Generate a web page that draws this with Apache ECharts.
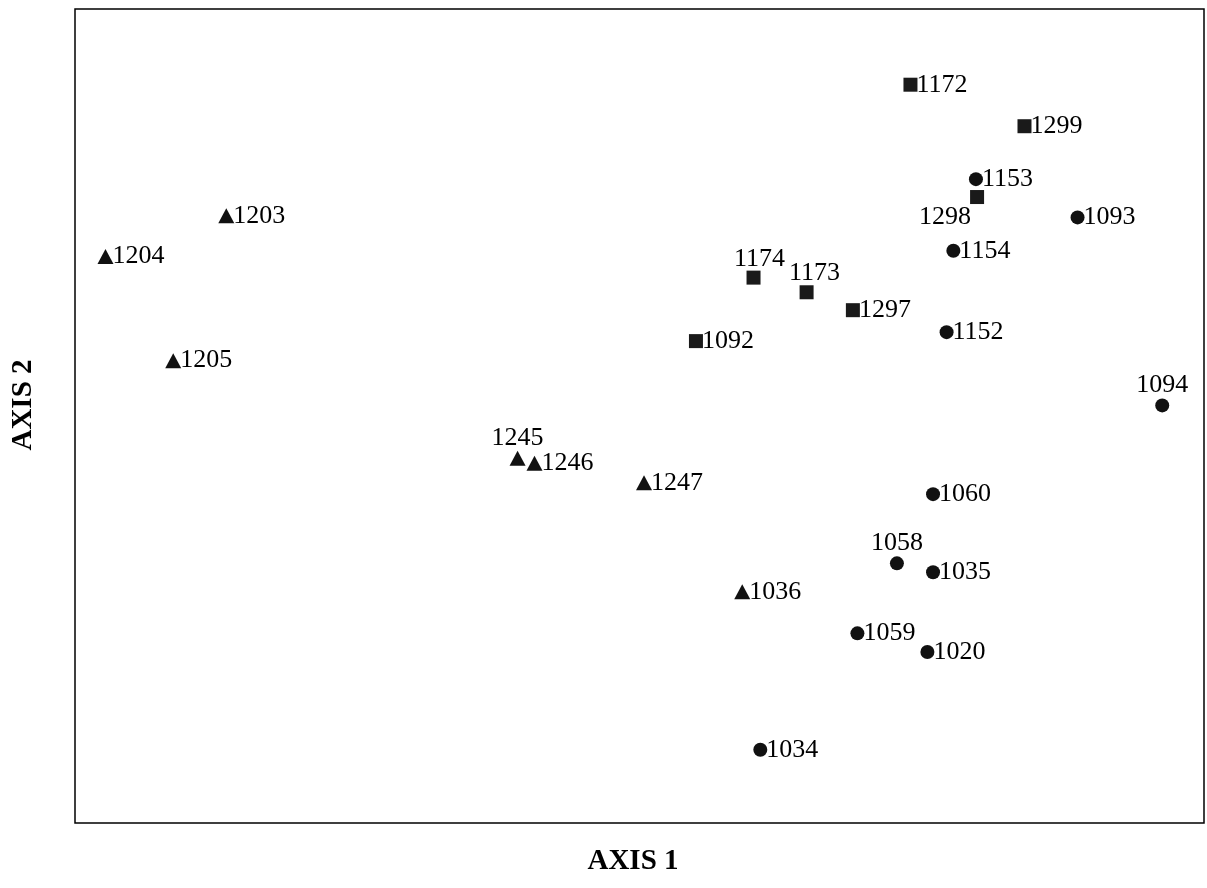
<!DOCTYPE html>
<html>
<head>
<meta charset="utf-8">
<script src="https://cdn.jsdelivr.net/npm/echarts@6/dist/echarts.min.js"></script>
<style>
  html, body { margin: 0; padding: 0; background: #fff; }
  #chart { width: 1207px; height: 888px; }
</style>
</head>
<body>
<div id="chart"></div>
<script>
// sample ids and ordination scores (arbitrary units 0-100), per marker group
const triNames = ['1203', '1204', '1205', '1245', '1246', '1247', '1036'];
const triX = [13.4, 2.7, 8.7, 39.2, 40.7, 50.4, 59.1];
const triY = [74.6, 69.6, 56.8, 44.8, 44.2, 41.8, 28.4];

const sqNames = ['1172', '1299', '1298', '1174', '1173', '1297', '1092'];
const sqX = [74.0, 84.1, 79.9, 60.1, 64.8, 68.9, 55.0];
const sqY = [90.7, 85.6, 76.9, 67.0, 65.2, 63.0, 59.2];

const dotNames = ['1153', '1093', '1154', '1152', '1094', '1060', '1058', '1035', '1059', '1020', '1034'];
const dotX = [79.8, 88.8, 77.8, 77.2, 96.3, 76.0, 72.8, 76.0, 69.3, 75.5, 60.7];
const dotY = [79.1, 74.4, 70.3, 60.3, 51.3, 40.4, 31.9, 30.8, 23.3, 21.0, 9.0];

// labels that don't sit to the right of their marker
const labelPos = {
  '1245': { position: 'top', distance: 0 },
  '1174': { position: 'top', distance: -2, offset: [6, 0] },
  '1173': { position: 'top', distance: -1, offset: [8, 0] },
  '1094': { position: 'top', distance: 0 },
  '1058': { position: 'top', distance: 0 },
  '1298': { position: 'bottom', distance: 0, offset: [-32, 0] }
};

function makeData(names, xs, ys) {
  return names.map(function (n, i) {
    const item = { name: n, value: [xs[i], ys[i]] };
    if (labelPos[n]) item.label = labelPos[n];
    return item;
  });
}

const chart = echarts.init(document.getElementById('chart'));

const labelStyle = {
  show: true,
  position: 'right',
  distance: -1,
  formatter: '{b}',
  fontFamily: 'Liberation Serif',
  fontSize: 26,
  color: '#000'
};

const hiddenAxis = {
  min: 0,
  max: 100,
  axisLine: { show: false },
  axisTick: { show: false },
  axisLabel: { show: false },
  splitLine: { show: false }
};

chart.setOption({
  animation: false,
  backgroundColor: '#fff',
  grid: {
    left: 75, top: 9, width: 1129, height: 814,
    show: true,
    borderColor: '#000',
    borderWidth: 1.5,
    backgroundColor: 'transparent'
  },
  xAxis: Object.assign({ type: 'value' }, hiddenAxis),
  yAxis: Object.assign({ type: 'value' }, hiddenAxis),
  graphic: [
    {
      type: 'text',
      x: 633,
      y: 862,
      style: {
        text: 'AXIS 1',
        font: 'bold 29px "Liberation Serif"',
        fill: '#000',
        align: 'center',
        verticalAlign: 'middle'
      }
    },
    {
      type: 'text',
      x: 24,
      y: 405,
      rotation: Math.PI / 2,
      style: {
        text: 'AXIS 2',
        font: 'bold 29px "Liberation Serif"',
        fill: '#000',
        align: 'center',
        verticalAlign: 'middle'
      }
    }
  ],
  series: [
    {
      type: 'scatter',
      symbol: 'triangle',
      symbolSize: [16, 15],
      itemStyle: { color: '#111', opacity: 1 },
      label: labelStyle,
      data: makeData(triNames, triX, triY)
    },
    {
      type: 'scatter',
      symbol: 'rect',
      symbolSize: 14,
      itemStyle: { color: '#1a1a1a', opacity: 1 },
      label: labelStyle,
      data: makeData(sqNames, sqX, sqY)
    },
    {
      type: 'scatter',
      symbol: 'circle',
      symbolSize: 14,
      itemStyle: { color: '#111', opacity: 1 },
      label: labelStyle,
      data: makeData(dotNames, dotX, dotY)
    }
  ]
});
</script>
</body>
</html>
